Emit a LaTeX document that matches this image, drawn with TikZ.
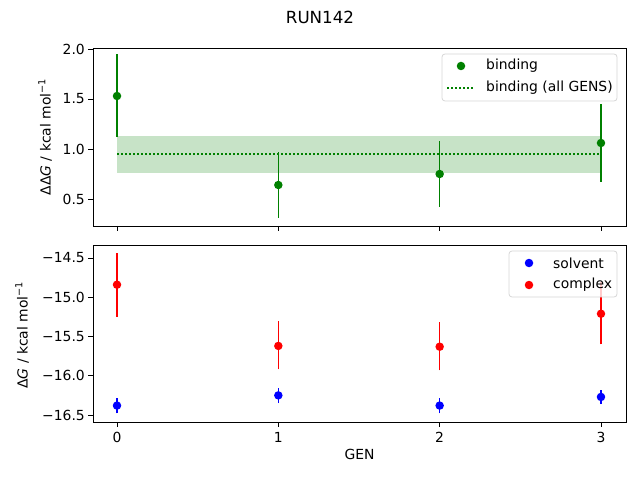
\documentclass[tikz,border=0pt]{standalone}
\usepackage{fontspec}
\setmainfont{DejaVu Sans}
\definecolor{mplgreen}{RGB}{0,128,0}
\begin{document}
\begin{tikzpicture}[x=1pt,y=1pt,
  lab/.style={font=\fontsize{13.9}{16}\selectfont,inner sep=0pt},
  tk/.style={line width=0.8pt},
  dot/.style={circle,inner sep=0pt,minimum size=8.5pt},
  leg/.style={draw=black!20,fill=white,fill opacity=0.8,draw opacity=0.8,rounded corners=3pt,line width=0.8pt}]
\useasboundingbox (0,0) rectangle (640,480);
\node[lab,font=\fontsize{16.7}{19}\selectfont] (title) at (320,463) {RUN142};
% axes frames
\draw[tk] (93,254) rectangle (626,432);
\draw[tk] (93,58) rectangle (626,235);
% x ticks
\foreach \g in {0,1,2,3}{
  \draw[tk] ({117+161.33*\g},254) -- ++(0,-4.9);
  \draw[tk] ({117+161.33*\g},58) -- ++(0,-4.9);
  \node[lab,anchor=north] at ({117+161.33*\g},48) {\g};
}
\node[lab,anchor=north] (xl) at (359.5,31) {GEN};
% top y ticks
\foreach \v/\t in {0.5/0.5,1.0/1.0,1.5/1.5,2.0/2.0}{
  \draw[tk] (93,{231+100*\v}) -- ++(-4.9,0);
  \node[lab,anchor=east] at (85,{231+100*\v}) {\t};
}
\node[lab,rotate=90] (yl1) at (45,343) {ΔΔ\textit{G} / kcal mol\textsuperscript{−1}};
% bottom y ticks
\foreach \v in {14.5,15.0,15.5,16.0,16.5}{
  \draw[tk] (93,{222-78.5*(\v-14.5)}) -- ++(-4.9,0);
  \node[lab,anchor=east] at (85,{222-78.5*(\v-14.5)}) {−\v};
}
\node[lab,rotate=90] (yl2) at (22,145) {Δ\textit{G} / kcal mol\textsuperscript{−1}};
% top data
\begin{scope}[shift={(117,231)},x=161.33pt,y=100pt]
  \fill[mplgreen,opacity=0.22] (0,0.76) rectangle (3,1.13);
  \draw[mplgreen,line width=1.5pt,dash pattern=on 1.5pt off 2.5pt] (0,0.95) -- (3,0.95);
  \foreach \g/\v/\lo/\hi in {0/1.53/1.12/1.95,1/0.64/0.31/0.97,2/0.75/0.42/1.08,3/1.06/0.67/1.45}{
    \draw[mplgreen,line width=1.5pt] (\g,\lo) -- (\g,\hi);
    \node[dot,fill=mplgreen] at (\g,\v) {};
  }
\end{scope}
% bottom data
\begin{scope}[shift={(117,1360.25)},x=161.33pt,y=78.5pt]
  \foreach \g/\v/\lo/\hi in {0/-14.84/-15.25/-14.43,1/-15.62/-15.92/-15.30,2/-15.63/-15.93/-15.31,3/-15.21/-15.60/-14.80}{
    \draw[red,line width=1.5pt] (\g,\lo) -- (\g,\hi);
    \node[dot,fill=red] at (\g,\v) {};
  }
  \foreach \g/\v/\lo/\hi in {0/-16.38/-16.48/-16.28,1/-16.25/-16.35/-16.15,2/-16.38/-16.48/-16.28,3/-16.27/-16.36/-16.18}{
    \draw[blue,line width=1.5pt] (\g,\lo) -- (\g,\hi);
    \node[dot,fill=blue] at (\g,\v) {};
  }
\end{scope}
% top legend
\draw[leg] (442,379) rectangle (617,426);
\node[dot,fill=mplgreen] (lg1) at (461,414) {};
\node[lab,anchor=west] (lt1) at (486,414) {binding};
\coordinate (la) at (447,392); \coordinate (lb) at (475,392);
\draw[mplgreen,line width=1.5pt,dash pattern=on 1.5pt off 2.5pt] (la) -- (lb);
\node[lab,anchor=west] (lt2) at (486,392) {binding (all GENS)};
% bottom legend
\draw[leg] (509,183) rectangle (617,229);
\node[dot,fill=blue] (lg2) at (529,217) {};
\node[lab,anchor=west] (lt3) at (553,217) {solvent};
\node[dot,fill=red] (lg3) at (529,195) {};
\node[lab,anchor=west] (lt4) at (553,195) {complex};
\end{tikzpicture}
\end{document}
